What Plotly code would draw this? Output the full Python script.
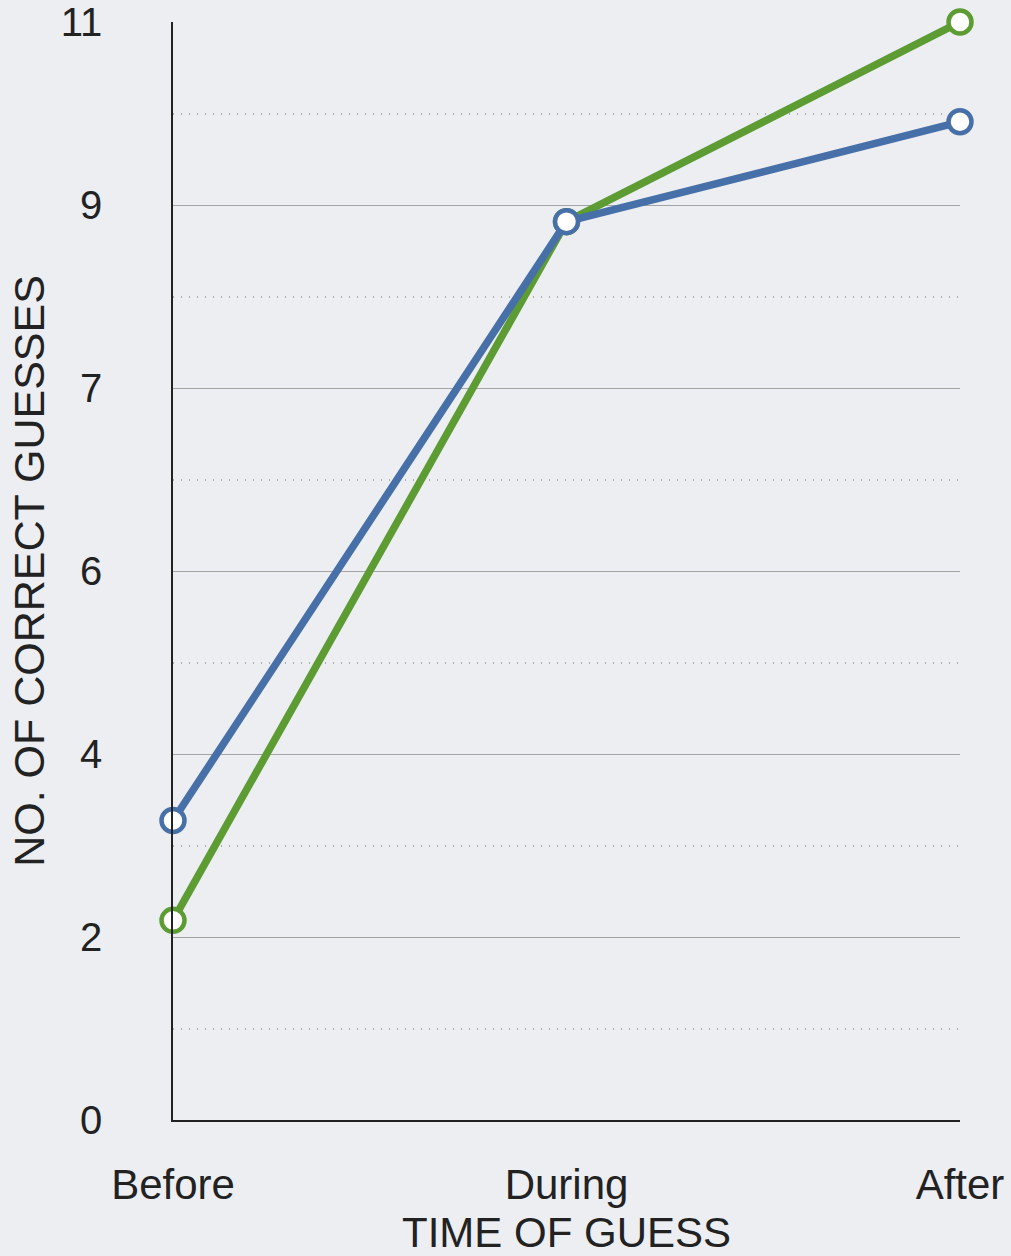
import plotly.graph_objects as go

categories = ["Before", "During", "After"]
blue_values = [3, 9, 10]
green_values = [2, 9, 11]
y_tick_labels = ["0", "2", "4", "6", "7", "9", "11"]
y_max = 11

n = len(y_tick_labels) - 1
major_vals = [y_max * i / n for i in range(n + 1)]
minor_vals = [y_max * (i + 0.5) / n for i in range(n)]

BLUE = "#4870a8"
GREEN = "#5c9c32"
FONT = "Liberation Sans, Arial, Helvetica, sans-serif"

fig = go.Figure()
for vals, col in [(green_values, GREEN), (blue_values, BLUE)]:
    fig.add_trace(go.Scatter(
        x=categories, y=vals, mode="lines+markers",
        line=dict(color=col, width=7.5),
        marker=dict(size=23, color="white", line=dict(color=col, width=4.5)),
        cliponaxis=False, showlegend=False,
    ))

fig.update_layout(
    width=1011, height=1256,
    margin=dict(l=173, r=51, t=22, b=136),
    paper_bgcolor="#eceef2", plot_bgcolor="#eceef2",
    font=dict(family=FONT, color="#222222", size=40),
)
fig.update_xaxes(
    type="category", range=[0, 2], automargin=False,
    showgrid=False, zeroline=False,
    showline=True, linecolor="#222222", linewidth=1.5,
    ticks="", tickfont=dict(size=42),
    ticklabelstandoff=27,
    title=dict(text="TIME OF GUESS", font=dict(size=42), standoff=13),
)
fig.update_yaxes(
    range=[0, y_max], tickmode="array", automargin=False,
    tickvals=major_vals, ticktext=y_tick_labels,
    showgrid=True, gridcolor="#a4a4a4", gridwidth=1,
    zeroline=False,
    showline=True, linecolor="#222222", linewidth=1.5,
    ticks="", tickfont=dict(size=40),
    ticklabelstandoff=61,
    minor=dict(tickvals=minor_vals, showgrid=True, gridcolor="#aaaaaa",
               griddash="1px,7px", gridwidth=1.5),
    title=dict(text="NO. OF CORRECT GUESSES", font=dict(size=43), standoff=3),
)

fig.write_html("out.html", config={"displayModeBar": False},
               post_script="document.body.style.margin='0';document.body.style.overflow='hidden';")
